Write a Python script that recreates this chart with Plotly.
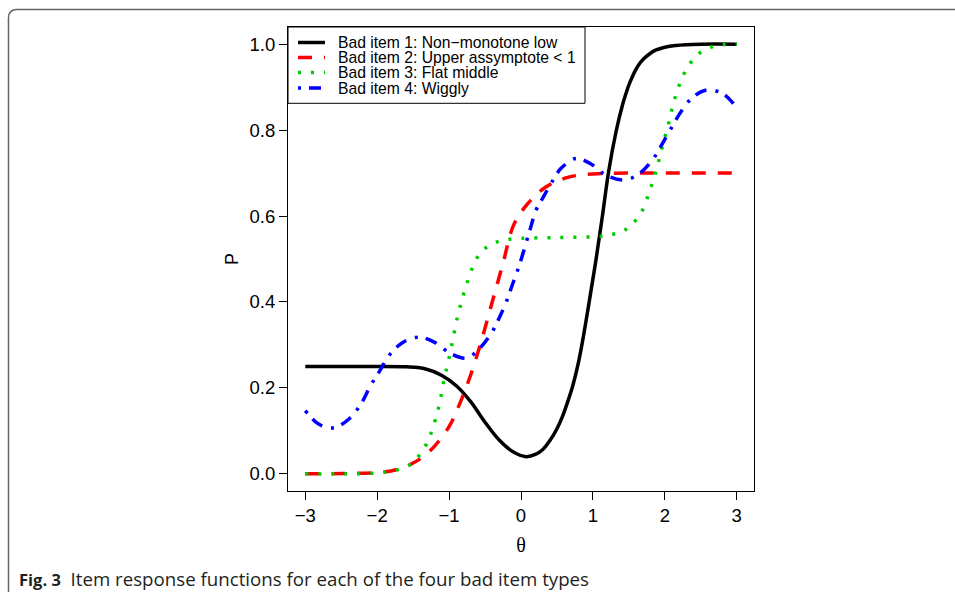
import plotly.graph_objects as go

# ---------------- data ----------------
series_names = [
    "Bad item 1: Non\u2212monotone low",
    "Bad item 2: Upper assymptote < 1",
    "Bad item 3: Flat middle",
    "Bad item 4: Wiggly",
]

theta_1 = [-3.0, -2.5, -2.0, -1.6, -1.35, -1.1, -0.9, -0.7, -0.5, -0.3, -0.1, 0.07, 0.2, 0.3, 0.4,
           0.5, 0.58, 0.65, 0.72, 0.8, 0.87, 0.95, 1.04, 1.13, 1.22, 1.32, 1.41, 1.45, 1.5, 1.55,
           1.6, 1.65, 1.7, 1.8, 1.87, 2.0, 2.15, 2.5, 3.0]
p_1 = [0.25, 0.25, 0.25, 0.249, 0.245, 0.229, 0.205, 0.168, 0.12, 0.078, 0.05, 0.04, 0.045, 0.056,
       0.077, 0.105, 0.135, 0.168, 0.205, 0.26, 0.322, 0.402, 0.495, 0.598, 0.705, 0.795, 0.858,
       0.88, 0.905, 0.925, 0.942, 0.955, 0.965, 0.979, 0.986, 0.993, 0.997, 1.0, 1.0]

theta_2 = [-3.0, -2.5, -2.0, -1.75, -1.5, -1.25, -1.0, -0.85, -0.7, -0.55, -0.4, -0.25, -0.1, 0.1,
           0.35, 0.65, 1.0, 1.5, 2.0, 3.0]
p_2 = [0.0, 0.0005, 0.003, 0.009, 0.025, 0.056, 0.11, 0.164, 0.23, 0.31, 0.40, 0.49, 0.58, 0.63,
       0.668, 0.69, 0.698, 0.7, 0.7, 0.7]

theta_3 = [-3.0, -2.5, -2.0, -1.75, -1.545, -1.41, -1.31, -1.24, -1.14, -1.07, -1.0, -0.876, -0.773,
           -0.65, -0.55, -0.413, -0.24, 0.0, 0.5, 1.04, 1.226, 1.41, 1.55, 1.665, 1.74, 1.80, 1.86,
           1.905, 1.95, 2.0, 2.05, 2.09, 2.14, 2.195, 2.27, 2.36, 2.49, 2.66, 2.83, 3.0]
p_3 = [0.0, 0.0, 0.002, 0.008, 0.021, 0.044, 0.071, 0.10, 0.158, 0.219, 0.27, 0.37, 0.432,
       0.49, 0.517, 0.534, 0.544, 0.548, 0.55, 0.552, 0.556, 0.564, 0.582, 0.606, 0.635, 0.664, 0.693,
       0.722, 0.752, 0.783, 0.813, 0.843, 0.874, 0.902, 0.932, 0.957, 0.98, 0.994, 0.999, 1.0]

theta_4 = [-3.0, -2.815, -2.6, -2.377, -2.22, -2.1, -1.97, -1.845, -1.66, -1.43, -1.2, -0.99, -0.76,
           -0.575, -0.413, -0.3, -0.205, -0.114, -0.03, 0.118, 0.21, 0.30, 0.418, 0.557, 0.765, 0.995,
           1.18, 1.434, 1.64, 1.826, 1.94, 2.08, 2.21, 2.36, 2.566, 2.806, 2.98]
p_4 = [0.147, 0.116, 0.107, 0.13, 0.164, 0.203, 0.238, 0.273, 0.304, 0.318, 0.306, 0.281, 0.269,
       0.292, 0.327, 0.364, 0.40, 0.443, 0.482, 0.564, 0.614, 0.641, 0.676, 0.711, 0.734, 0.719,
       0.695, 0.684, 0.698, 0.73, 0.761, 0.802, 0.839, 0.872, 0.893, 0.885, 0.856]

x_ticks = [-3, -2, -1, 0, 1, 2, 3]
y_ticks = [0.0, 0.2, 0.4, 0.6, 0.8, 1.0]
x_title = "\u03b8"
y_title = "P"
caption_bold = "Fig. 3"
caption_text = "Item response functions for each of the four bad item types"

# ---------------- styles ----------------
colors = ["#000000", "#FF0000", "#00CD00", "#0000FF"]
dashes = ["solid", "14px,12px", "3px,10px", "3px,8px,12px,9px"]
widths = [3.5, 3.5, 3.5, 3.5]

W, H = 955, 592
ML, MR, MT, MB = 288, 201, 27, 101
PW, PH = W - ML - MR, H - MT - MB


def px(xp):
    return (xp - ML) / PW


def py(yp):
    return (H - MB - yp) / PH


fig = go.Figure()
for th, p, c, d, w, n in zip([theta_1, theta_2, theta_3, theta_4], [p_1, p_2, p_3, p_4],
                             colors, dashes, widths, series_names):
    fig.add_trace(go.Scatter(x=th, y=p, mode="lines", name=n,
                             line=dict(color=c, dash=d, width=w, shape="spline", smoothing=1.0),
                             showlegend=False, hoverinfo="skip"))

shapes = []
annotations = []

# figure frame (rounded top-left corner, running off right and bottom)
frame_path = (f"M {px(8.5)},{py(600)} L {px(8.5)},{py(18)} "
              f"Q {px(8.5)},{py(9.5)} {px(17)},{py(9.5)} L {px(965)},{py(9.5)}")
shapes.append(dict(type="path", xref="paper", yref="paper", path=frame_path,
                   line=dict(color="#666666", width=1.5)))

# legend box (R-style, top-left of plot)
shapes.append(dict(type="rect", xref="paper", yref="paper", x0=px(288), x1=px(585),
                   y0=py(103.3), y1=1, line=dict(color="black", width=1),
                   fillcolor="white", layer="above"))
row_y = [42.5, 57.5, 72.5, 88]
for i, n in enumerate(series_names):
    shapes.append(dict(type="line", xref="paper", yref="paper", x0=px(298), x1=px(325),
                       y0=py(row_y[i]), y1=py(row_y[i]),
                       line=dict(color=colors[i], dash=dashes[i], width=widths[i]), layer="above"))
    annotations.append(dict(xref="paper", yref="paper", x=px(336), y=py(row_y[i]), text=n,
                            showarrow=False, xanchor="left", yanchor="middle",
                            font=dict(family="Liberation Sans, Arial", size=15.7, color="black")))

# caption
annotations.append(dict(xref="paper", yref="paper", x=px(17), y=py(578),
                        text=(f"<b><span style='font-size:16.5px'>{caption_bold}</span></b>"
                              f"  {caption_text}"),
                        showarrow=False, xanchor="left", yanchor="middle",
                        font=dict(family="Open Sans", size=18.7, color="#231f20")))

axis_common = dict(showline=True, mirror=True, linecolor="black", linewidth=1, ticks="outside",
                   ticklen=8, tickcolor="black", tickwidth=1, showgrid=False, zeroline=False,
                   tickfont=dict(family="Liberation Sans", size=18.5, color="black"))

fig.update_layout(
    width=W, height=H, margin=dict(l=ML, r=MR, t=MT, b=MB, autoexpand=False),
    paper_bgcolor="white", plot_bgcolor="white",
    xaxis=dict(range=[-3.24, 3.24], tickvals=x_ticks, **axis_common,
               title=dict(text=x_title, standoff=12,
                          font=dict(family="Liberation Serif", size=20, color="black"))),
    yaxis=dict(range=[-0.04, 1.04], tickvals=y_ticks, tickformat=".1f", **axis_common,
               title=dict(text=y_title, standoff=6,
                          font=dict(family="Liberation Sans", size=18, color="black"))),
    shapes=shapes, annotations=annotations, showlegend=False,
)

fig.write_html("out.html")
